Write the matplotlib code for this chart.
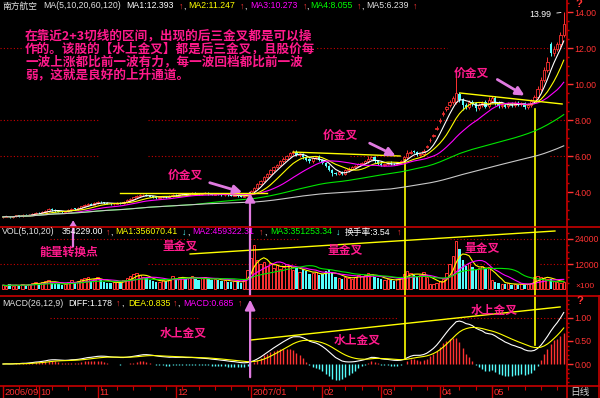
import numpy as np
import pandas as pd
import matplotlib.pyplot as plt

# K线图：南方航空 日线，MA / VOL / MACD 三个窗格
W, H = 600, 398
RED = "#ff3232"
CYAN = "#54fcfc"
AXRED = "#c80000"
PINK = "#ff1a8c"
ARROW = "#e07ae0"
YEL = "#ffff00"

plt.rcParams["font.family"] = ["Liberation Sans", "Noto Sans CJK SC", "DejaVu Sans"]

# 收盘价 / 开盘价 (元)
close = [
    2.62, 2.66, 2.60, 2.64, 2.70, 2.66, 2.72, 2.68, 2.75, 2.80,
    2.85, 2.82, 2.90, 2.95, 3.05, 3.00, 2.95, 2.90, 2.88, 2.92,
    3.00, 3.08, 3.05, 3.12, 3.20, 3.28, 3.35, 3.30, 3.38, 3.45,
    3.42, 3.38, 3.35, 3.32, 3.36, 3.40, 3.38, 3.45, 3.55, 3.62,
    3.70, 3.78, 3.82, 3.85, 3.80, 3.75, 3.72, 3.68, 3.70, 3.74,
    3.72, 3.78, 3.85, 3.82, 3.88, 3.90, 3.86, 3.92, 3.95, 3.90,
    3.88, 3.92, 3.95, 3.90, 3.86, 3.90, 3.88, 3.84, 3.86, 3.82,
    3.80, 3.84, 3.78, 3.74, 3.80, 3.92, 4.05, 4.25, 4.45, 4.62,
    4.85, 5.02, 5.20, 5.38, 5.50, 5.70, 5.85, 6.00, 6.15, 6.22,
    6.05, 6.10, 5.92, 5.80, 5.70, 5.88, 5.95, 5.78, 5.60, 5.45,
    5.22, 5.05, 4.98, 5.10, 5.02, 5.20, 5.30, 5.38, 5.45, 5.55,
    5.62, 5.70, 5.85, 5.92, 5.70, 5.58, 5.50, 5.56, 5.62, 5.55,
    5.55, 5.62, 5.70, 5.92, 6.18, 6.25, 6.22, 6.05, 6.10, 6.30,
    6.55, 6.90, 7.15, 7.55, 8.00, 8.40, 8.70, 9.00, 9.20, 9.50,
    9.10, 8.85, 8.70, 9.00, 8.90, 8.65, 8.85, 8.95, 8.75, 9.10,
    9.20, 8.95, 8.80, 8.85, 8.75, 8.90, 8.82, 8.95, 8.88, 8.92,
    8.72, 8.85, 9.05, 9.30, 9.75, 10.25, 10.80, 11.20, 11.70, 11.95,
    12.20, 12.75, 13.35,
]
open_ = [
    2.60, 2.62, 2.66, 2.60, 2.64, 2.70, 2.66, 2.72, 2.68, 2.75,
    2.80, 2.86, 2.82, 2.90, 2.95, 3.05, 3.00, 2.95, 2.91, 2.88,
    2.92, 3.00, 3.09, 3.05, 3.12, 3.20, 3.28, 3.36, 3.30, 3.38,
    3.46, 3.42, 3.38, 3.36, 3.32, 3.36, 3.41, 3.38, 3.45, 3.55,
    3.62, 3.70, 3.78, 3.82, 3.86, 3.80, 3.76, 3.72, 3.67, 3.70,
    3.75, 3.72, 3.78, 3.86, 3.82, 3.88, 3.91, 3.86, 3.92, 3.96,
    3.91, 3.88, 3.92, 3.96, 3.90, 3.86, 3.91, 3.88, 3.84, 3.87,
    3.83, 3.80, 3.85, 3.78, 3.74, 3.80, 3.92, 4.05, 4.25, 4.45,
    4.62, 4.85, 5.02, 5.20, 5.38, 5.50, 5.70, 5.85, 6.00, 6.15,
    6.24, 6.04, 6.12, 5.93, 5.82, 5.70, 5.88, 5.96, 5.78, 5.60,
    5.46, 5.22, 5.06, 4.98, 5.12, 5.02, 5.20, 5.30, 5.38, 5.45,
    5.55, 5.62, 5.70, 5.85, 5.94, 5.72, 5.58, 5.50, 5.56, 5.63,
    5.56, 5.55, 5.62, 5.70, 5.92, 6.18, 6.26, 6.23, 6.05, 6.10,
    6.50, 6.88, 7.12, 7.52, 7.95, 8.35, 8.62, 8.85, 9.00, 9.02,
    9.45, 9.12, 8.86, 8.70, 9.02, 8.92, 8.66, 8.85, 8.98, 8.76,
    9.08, 9.22, 8.96, 8.80, 8.86, 8.76, 8.90, 8.82, 8.96, 8.88,
    8.92, 8.72, 8.85, 9.05, 9.30, 9.75, 10.25, 10.80, 12.20, 11.72,
    11.95, 12.20, 12.75,
]
# 明显的长影线
high_marks = {89: 6.32, 112: 6.02, 124: 6.32, 139: 10.60, 149: 9.28, 167: 11.50, 168: 12.35, 172: 13.99}
low_marks = {101: 4.88, 141: 8.55, 145: 8.48}

# 成交量 (x100)
volume = [
    1800, 1500, 2200, 1600, 2000, 1400, 2400, 1700, 2600, 3000,
    3200, 2400, 3500, 3800, 4500, 3000, 2600, 2200, 2000, 2500,
    3400, 4200, 3100, 3800, 4600, 5200, 5800, 4000, 4800, 5600,
    4200, 3500, 3000, 2800, 3200, 3600, 3000, 4200, 5400, 6200,
    7000, 7800, 6500, 6000, 5200, 4400, 3800, 3400, 3600, 4200,
    4000, 5000, 6200, 5000, 5600, 6000, 4600, 5400, 6400, 5000,
    4400, 5200, 6000, 4800, 4200, 5000, 4400, 3800, 4200, 3600,
    3400, 4000, 3200, 3000, 4800, 9000, 15000, 21000, 14000, 12000,
    13000, 11000, 12500, 10000, 11500, 9500, 10500, 12000, 11000, 9000,
    10000, 8000, 9500, 8500, 7000, 7500, 8000, 6500, 7000, 8500,
    9000, 7500, 6000, 5500, 5000, 6000, 5500, 5000, 5800, 6500,
    6200, 6800, 7500, 7000, 6000, 5200, 4600, 4200, 4800, 4400,
    4000, 4600, 5600, 7000, 8500, 7800, 6500, 6000, 6800, 8000,
    6000, 2600, 2200, 3000, 3800, 5000, 7500, 12000, 16000, 23000,
    19000, 14000, 11000, 12500, 10500, 9000, 10000, 11000, 9500, 10500,
    4200, 3600, 3000, 2600, 2200, 2800, 2000, 2400, 2100, 2600,
    2000, 2300, 3000, 6000, 6200, 5600, 5200, 5000, 4600, 3800,
    3200, 3000, 3542,
]

ma_periods = [5, 10, 20, 60, 120]
ma_colors = ["#ffffff", YEL, "#ff00ff", "#00e600", "#c8c8c8"]
vol_periods = [5, 10, 20]
vol_colors = [YEL, "#ff00ff", "#00e600"]

month_idx = [0, 11, 29, 53, 76, 98, 116, 134, 150]
month_lbl = ["2006/09", "10", "11", "12", "2007/01", "02", "03", "04", "05"]

price_header = [(2, "南方航空", "#e0e0e0"), (43, "MA(5,10,20,60,120)", "#e0e0e0"),
                (126, "MA1:12.393", "#ffffff"), (179, "↑", RED), (183, ",", "#ffffff"),
                (188, "MA2:11.247", YEL), (240, "↑", RED), (244, ",", "#ffffff"),
                (250, "MA3:10.273", "#ff00ff"), (303, "↑", RED), (306, ",", "#ffffff"),
                (310, "MA4:8.055", "#00ff00"), (357, "↑", RED), (361, ",", "#ffffff"),
                (366, "MA5:6.239", "#e0e0e0"), (413, "↑", RED)]
vol_header = [(2, "VOL(5,10,20)", "#e0e0e0"), (62, "354229.00", "#ffffff"), (106, "↑", RED),
              (110, ",", "#ffffff"), (115, "MA1:356070.41", YEL), (182, "↓", CYAN),
              (187, ",", "#ffffff"), (192, "MA2:459322.31", "#ff00ff"), (259, "↑", RED),
              (264, ",", "#ffffff"), (270, "MA3:351253.34", "#00ff00"), (336, "↓", CYAN),
              (345, "换手率:3.54", "#ffffff"), (397, "↑", RED)]
macd_header = [(2, "MACD(26,12,9)", "#e0e0e0"), (68, "DIFF:1.178", "#ffffff"), (116, "↑", RED),
               (121, ",", "#ffffff"), (128, "DEA:0.835", YEL), (173, "↑", RED),
               (177, ",", "#ffffff"), (183, "MACD:0.685", "#ff00ff"), (238, "↑", RED)]

note_lines = ["在靠近2+3切线的区间，出现的后三金叉都是可以操",
              "作的。该股的【水上金叉】都是后三金叉，且股价每",
              "一波上涨都比前一波有力，每一波回档都比前一波",
              "弱，这就是良好的上升通道。"]

# 价格区注释 (序号, 价格)
price_notes = [(55.8, 4.94), (103.4, 7.17), (143.6, 10.61)]
price_arrows = [((62.6, 4.56), (74.2, 3.94)), ((111.7, 6.78), (121.2, 5.94)),
                ((150.9, 10.33), (160.7, 9.28))]
price_trends = [((36, 3.94), (81, 3.94)), ((89, 6.22), (121.8, 6.0)), ((140.2, 9.5), (171.5, 8.89))]
vol_notes = [(54.3, 20640), (104.9, 18720), (146.9, 19680)]
vol_trend = ((57.4, 16800), (169.3, 27840))
macd_notes = [(55.2, 0.67), (108.6, 0.52), (150.6, 1.17)]
macd_trend = ((75.8, 0.52), (170.9, 1.24))

# ---------------------------------------------------------------
N = len(close)
idx = np.arange(N)
c = np.array(close)
o = np.array(open_)
v = np.array(volume, dtype=float)
s = pd.Series(c)

hi = np.maximum(o, c) * 1.012
lo = np.minimum(o, c) * 0.988
for k, val in high_marks.items():
    hi[k] = val
for k, val in low_marks.items():
    lo[k] = val
up = c >= o

ema12 = s.ewm(span=12, adjust=False).mean()
ema26 = s.ewm(span=26, adjust=False).mean()
diff = ema12 - ema26
dea = diff.ewm(span=9, adjust=False).mean()
hist = 2 * (diff - dea)

fig = plt.figure(figsize=(W / 100, H / 100), dpi=100, facecolor="black")


def px_axes(x, y, w, h):
    ax = fig.add_axes([x / W, 1 - (y + h) / H, w / W, h / H])
    ax.set_facecolor("black")
    for sp in ax.spines.values():
        sp.set_visible(False)
    ax.set_xlim(-0.92, 173.0)
    ax.tick_params(axis="x", which="both", bottom=False, labelbottom=False)
    return ax


def right_ticks(ax, major, labels, minor):
    ax.yaxis.tick_right()
    ax.set_yticks(major)
    ax.set_yticklabels(labels)
    ax.set_yticks(minor, minor=True)
    ax.tick_params(axis="y", which="major", colors=RED, labelsize=6.3, length=4, pad=1.5, width=1)
    ax.tick_params(axis="y", which="minor", colors=AXRED, length=1.5, width=1)


def dotted(ax, y, segs):
    for a, b in segs:
        ax.axhline(y, a / 567, b / 567, color=AXRED, lw=0.8, ls=(0, (1, 2)), zorder=0)


# ---- 主图 ----
axp = px_axes(0, 0, 567, 227)
axp.set_ylim(2.056, 14.667)
right_ticks(axp, [4, 6, 8, 10, 12, 14], ["4.00", "6.00", "8.00", "10.00", "12.00", "14.00"],
            np.arange(2.5, 14.6, 0.5))
for lvl in (8, 6):
    dotted(axp, lvl, [(0, 98), (148, 298), (350, 500), (550, 567)])
dotted(axp, 12, [(0, 447), (500, 567)])

body_lo = np.minimum(o, c)
body_hi = np.maximum(o, c)
body_h = np.maximum(body_hi - body_lo, 0.02)
axp.vlines(idx[up], body_hi[up], hi[up], color=RED, lw=0.7)
axp.vlines(idx[up], lo[up], body_lo[up], color=RED, lw=0.7)
axp.vlines(idx[~up], lo[~up], hi[~up], color=CYAN, lw=0.7)
axp.bar(idx[up], body_h[up], bottom=body_lo[up], width=0.72, facecolor="black",
        edgecolor=RED, linewidth=0.6)
axp.bar(idx[~up], body_h[~up], bottom=body_lo[~up], width=0.72, color=CYAN, linewidth=0)

for p, col in zip(ma_periods, ma_colors):
    axp.plot(idx, s.rolling(p, min_periods=1).mean(), color=col, lw=0.8, zorder=3)

for (x0, y0), (x1, y1) in price_trends:
    axp.plot([x0, x1], [y0, y1], color=YEL, lw=1.0, zorder=4)
for x, y in price_notes:
    axp.text(x, y, "价金叉", color=PINK, fontsize=8.5, fontweight="bold",
             family="Noto Sans CJK SC", ha="center", va="center", zorder=6)
for (x0, y0), (x1, y1) in price_arrows:
    axp.annotate("", xy=(x1, y1), xytext=(x0, y0), zorder=6,
                 arrowprops=dict(arrowstyle="-|>,head_length=0.5,head_width=0.25",
                                 color=ARROW, lw=2))
axp.annotate("13.99", xy=(172, 13.99), xytext=(-9, -2), textcoords="offset points",
             ha="right", va="center", color="#ffffff", fontsize=6.3,
             arrowprops=dict(arrowstyle="-", color="#ffffff", lw=0.6))
# 竖线标记
axp.axvline(123.3, 0, 0.295, color=YEL, lw=1.2)
axp.axvline(163.2, 0, 0.52, color=YEL, lw=1.2)
axp.axvline(75.8, 0, 0.15, color=ARROW, lw=1.6)
axp.annotate("", xy=(75.8, 0.16), xytext=(75.8, 0.1), xycoords=("data", "axes fraction"),
             arrowprops=dict(arrowstyle="-|>,head_length=0.5,head_width=0.3", color=ARROW, lw=1.6))
axp.annotate("", xy=(21.5, 0.04), xytext=(21.5, 0.0), xycoords=("data", "axes fraction"),
             arrowprops=dict(arrowstyle="-|>,head_length=0.45,head_width=0.3", color=ARROW, lw=1.6))

# ---- 成交量 ----
axv = px_axes(0, 227, 567, 69)
axv.set_ylim(-3360, 29760)
right_ticks(axv, [12000, 24000], ["12000", "24000"], np.arange(3000, 29000, 3000))
dotted(axv, 24000, [(50, 190), (250, 300), (450, 567)])
dotted(axv, 12000, [(0, 98), (148, 298), (350, 500), (540, 567)])
axv.bar(idx[up], v[up], width=0.72, facecolor="black", edgecolor=RED, linewidth=0.7)
axv.bar(idx[~up], v[~up], width=0.72, color=CYAN, linewidth=0)
vs = pd.Series(v)
for p, col in zip(vol_periods, vol_colors):
    axv.plot(idx, vs.rolling(p, min_periods=1).mean(), color=col, lw=0.8)
axv.plot([vol_trend[0][0], vol_trend[1][0]], [vol_trend[0][1], vol_trend[1][1]], color=YEL, lw=1.0)
axv.text(20.2, 17760, "能量转换点", color=PINK, fontsize=8.5, fontweight="bold",
         family="Noto Sans CJK SC", ha="center", va="center")
for x, y in vol_notes:
    axv.text(x, y, "量金叉", color=PINK, fontsize=8.5, fontweight="bold",
             family="Noto Sans CJK SC", ha="center", va="center")
axv.axvline(123.3, color=YEL, lw=1.2)
axv.axvline(163.2, color=YEL, lw=1.2)
axv.axvline(75.8, color=ARROW, lw=1.6)
axv.axvline(21.5, 0.725, 1, color=ARROW, lw=1.6)

# ---- MACD ----
axm = px_axes(0, 296, 567, 90)
axm.set_ylim(-0.478, 1.478)
right_ticks(axm, [0, 0.5, 1.0], ["0.00", "0.50", "1.00"], np.arange(-0.4, 1.45, 0.1))
dotted(axm, 1.0, [(50, 200), (252, 397), (447, 567)])
axm.vlines(idx, 0, hist, colors=[RED if h >= 0 else CYAN for h in hist], lw=1)
axm.plot(idx, diff, color="#ffffff", lw=0.8)
axm.plot(idx, dea, color=YEL, lw=0.8)
axm.plot([macd_trend[0][0], macd_trend[1][0]], [macd_trend[0][1], macd_trend[1][1]], color=YEL, lw=1.0)
for x, y in macd_notes:
    axm.text(x, y, "水上金叉", color=PINK, fontsize=8.5, fontweight="bold",
             family="Noto Sans CJK SC", ha="center", va="center")
axm.axvline(123.3, 0.311, 1, color=YEL, lw=1.2)
axm.axvline(163.2, 0.456, 1, color=YEL, lw=1.2)
axm.annotate("", xy=(75.8, 0.99), xytext=(75.8, 0.067), xycoords=("data", "axes fraction"),
             arrowprops=dict(arrowstyle="-|>,head_length=0.6,head_width=0.3", color=ARROW, lw=1.6))

# ---- 日期轴 ----
axd = px_axes(0, 386, 567, 12)
axd.set_ylim(0, 1)
axd.set_yticks([])
axd.vlines(month_idx, 0, 1, color=AXRED, lw=1)
axd.vlines(np.arange(0, N, 5), 0.65, 1, color=AXRED, lw=0.8)
for m, lbl in zip(month_idx, month_lbl):
    axd.text(m + 0.4, 0.42, lbl, color=RED, fontsize=6.8, ha="left", va="center")

# ---- 叠加层：标题、分隔线、文字 ----
ov = fig.add_axes([0, 0, 1, 1], zorder=10)
ov.set_xlim(0, W)
ov.set_ylim(H, 0)
ov.axis("off")
ov.patch.set_alpha(0)
for y in (227, 296, 386):
    ov.plot([0, W], [y, y], color=AXRED, lw=1.2)
ov.plot([567, 567], [0, H], color=AXRED, lw=1.2)
ov.plot([599, 599], [296, H], color=AXRED, lw=1.2)

for header, y in ((price_header, 6), (vol_header, 232), (macd_header, 303)):
    for x, txt, col in header:
        ov.text(x, y, txt, color=col, fontsize=6.3, ha="left", va="center")

for k, line in enumerate(note_lines):
    ov.text(25, 36 + 13 * k, line, color=PINK, fontsize=9.1, fontweight="bold",
            family="Noto Sans CJK SC", ha="left", va="center",
            bbox=dict(facecolor="black", edgecolor="none", pad=0.5))

ov.text(579, 4, "?", color=RED, fontsize=8, fontweight="bold", ha="center", va="center")
ov.text(580, 301, "?", color=RED, fontsize=8, fontweight="bold", ha="center", va="center")
ov.text(575, 287, "×100", color=RED, fontsize=6, ha="left", va="center")
ov.text(570, 392, "日线", color="#d0d0d0", fontsize=7, family="Noto Sans CJK SC",
        ha="left", va="center")

fig.savefig("out.png", dpi=100, facecolor="black")
